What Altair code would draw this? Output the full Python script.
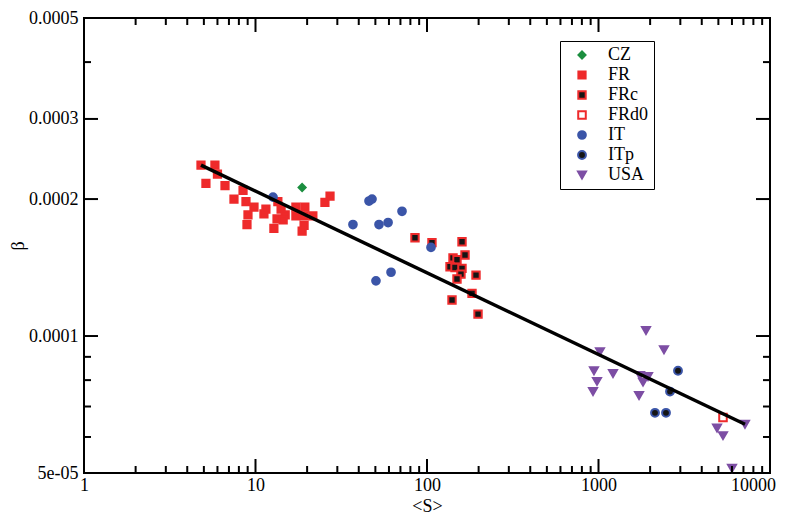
import altair as alt
import pandas as pd

# ---------------- data ----------------
series_order = ["CZ", "FR", "FRc", "FRd0", "IT", "ITp", "USA"]
series_fill = ["#1b8e3f", "#ee2a2b", "#151515", "#ffffff", "#3b55a8", "#151515", "#7d4ea4"]
series_stroke = ["#1b8e3f", "#ee2a2b", "#ee2a2b", "#ee2a2b", "#3b55a8", "#3b55a8", "#7d4ea4"]
series_shape = ["diamond", "square", "square", "square", "circle", "circle", "triangle-down"]
series_size = [50, 64, 60, 60, 64, 64, 100]

cz_s = [18.7]
cz_b = [2.12e-4]

fr_s = [4.81, 5.80, 6.0, 5.14, 6.64, 8.46, 7.49, 8.80, 9.80, 9.04, 11.2, 8.92, 13.5, 14.1,
        14.9, 13.35, 12.8, 14.5, 17.2, 19.4, 17.2, 19.2, 21.6, 19.2, 18.7, 27.2, 25.4, 11.5]
fr_b = [2.374e-4, 2.374e-4, 2.27e-4, 2.165e-4, 2.14e-4, 2.09e-4, 2.00e-4, 1.975e-4, 1.919e-4,
        1.846e-4, 1.855e-4, 1.758e-4, 1.975e-4, 1.90e-4, 1.846e-4, 1.81e-4, 1.725e-4, 1.80e-4,
        1.919e-4, 1.919e-4, 1.837e-4, 1.837e-4, 1.837e-4, 1.75e-4, 1.70e-4, 2.03e-4, 1.966e-4,
        1.90e-4]

frc_s = [85.1, 106.9, 160.0, 166.6, 141.8, 149.6, 136.2, 145.6, 160.0, 157.8, 193.1, 149.6,
         183.0, 139.9, 198.4]
frc_b = [1.644e-4, 1.604e-4, 1.612e-4, 1.507e-4, 1.485e-4, 1.471e-4, 1.42e-4, 1.415e-4,
         1.408e-4, 1.368e-4, 1.361e-4, 1.335e-4, 1.241e-4, 1.20e-4, 1.117e-4]

frd0_s = [5320]
frd0_b = [6.62e-5]

it_s = [12.65, 45.9, 47.8, 71.5, 37.0, 52.5, 59.3, 105.5, 61.7, 50.4]
it_b = [2.02e-4, 1.98e-4, 2.00e-4, 1.88e-4, 1.758e-4, 1.758e-4, 1.776e-4, 1.566e-4,
        1.381e-4, 1.322e-4]

itp_s = [2135, 2475, 2612, 2908]
itp_b = [6.78e-5, 6.78e-5, 7.55e-5, 8.39e-5]

usa_s = [1892, 1020, 2409, 941, 1215, 980, 929, 1746, 1944, 1818, 1723, 4910, 5320, 7147, 6003]
usa_b = [1.028e-4, 9.24e-5, 9.33e-5, 8.39e-5, 8.27e-5, 7.95e-5, 7.55e-5, 8.19e-5, 8.15e-5,
         7.92e-5, 7.40e-5, 6.28e-5, 6.04e-5, 6.40e-5, 5.12e-5]

fit_s = [4.81, 7150]
fit_b = [2.374e-4, 6.40e-5]

x_tick_values = [1, 10, 100, 1000, 10000]
x_tick_labels = ["1", "10", "100", "1000", "10000"]
x_minor_ticks = [m * d for d in [1, 10, 100, 1000] for m in range(2, 10)]
y_tick_values = [5e-05, 0.0001, 0.0002, 0.0003, 0.0005]
y_tick_labels = ["5e-05", "0.0001", "0.0002", "0.0003", "0.0005"]
y_major_inner = [0.0001, 0.0002, 0.0003]
y_minor_ticks = [6e-05, 7e-05, 8e-05, 9e-05, 0.0004]

# ---------------- build tables ----------------
rows = []
for name, xs, ys in [("CZ", cz_s, cz_b), ("FR", fr_s, fr_b), ("FRc", frc_s, frc_b),
                     ("FRd0", frd0_s, frd0_b), ("IT", it_s, it_b), ("ITp", itp_s, itp_b),
                     ("USA", usa_s, usa_b)]:
    for a, b in zip(xs, ys):
        rows.append({"S": a, "beta": b, "series": name})
pts = pd.DataFrame(rows)
fit = pd.DataFrame({"S": fit_s, "beta": fit_b})

W, H = 686, 455
FONT = "Liberation Serif"
MAJ, MIN = 14, 7

xscale = alt.Scale(type="log", domain=[1, 10000], nice=False)
yscale = alt.Scale(type="log", domain=[5e-05, 0.0005], nice=False)


def label_expr(values, labels, tol):
    expr = "''"
    for v, l in reversed(list(zip(values, labels))):
        expr = f"abs(datum.value - {v!r}) < {tol} ? '{l}' : ({expr})"
    return expr


x_axis = alt.Axis(values=x_tick_values, labelExpr=label_expr(x_tick_values, x_tick_labels, 1e-6),
                  title="<S>", ticks=False, tickSize=0, domain=False, grid=False,
                  labelFlush=False, labelOverlap=False, labelPadding=3,
                  labelOffset={"condition": {"test": "datum.value > 5000", "value": -17}, "value": 0},
                  titleY=33, titleBaseline="middle")
y_axis = alt.Axis(values=y_tick_values, labelExpr=label_expr(y_tick_values, y_tick_labels, 1e-12),
                  title="β", ticks=False, tickSize=0, domain=False, grid=False,
                  labelFlush=False, labelOverlap=False, labelPadding=6,
                  titleX=-66, titleY=H / 2, titleBaseline="middle", titleAnchor="middle")

leg = alt.Legend(title=None, orient="none", legendX=476, legendY=23, strokeColor="black",
                 padding=5, symbolOffset=8, labelFont=FONT, labelFontSize=18, labelColor="black",
                 symbolStrokeWidth=2, rowPadding=2, labelOffset=17)

points = alt.Chart(pts).mark_point(filled=True, strokeWidth=2, opacity=1).encode(
    x=alt.X("S:Q", scale=xscale, axis=x_axis),
    y=alt.Y("beta:Q", scale=yscale, axis=y_axis),
    shape=alt.Shape("series:N", scale=alt.Scale(domain=series_order, range=series_shape), legend=leg),
    fill=alt.Fill("series:N", scale=alt.Scale(domain=series_order, range=series_fill), legend=leg),
    stroke=alt.Stroke("series:N", scale=alt.Scale(domain=series_order, range=series_stroke), legend=leg),
    size=alt.Size("series:N", scale=alt.Scale(domain=series_order, range=series_size), legend=leg),
)

line = alt.Chart(fit).mark_line(color="black", strokeWidth=3.5).encode(
    x=alt.X("S:Q", scale=xscale),
    y=alt.Y("beta:Q", scale=yscale),
)

xmaj = pd.DataFrame({"v": x_tick_values})
xmin = pd.DataFrame({"v": x_minor_ticks})
ymaj = pd.DataFrame({"v": y_major_inner})
ymin = pd.DataFrame({"v": y_minor_ticks})


def xticks(df, length):
    bottom = alt.Chart(df).mark_rule(color="black", strokeWidth=2).encode(
        x=alt.X("v:Q", scale=xscale), y=alt.value(H), y2=alt.value(H - length))
    top = alt.Chart(df).mark_rule(color="black", strokeWidth=2).encode(
        x=alt.X("v:Q", scale=xscale), y=alt.value(0), y2=alt.value(length))
    return [bottom, top]


def yticks(df, length):
    left = alt.Chart(df).mark_rule(color="black", strokeWidth=2).encode(
        y=alt.Y("v:Q", scale=yscale), x=alt.value(0), x2=alt.value(length))
    right = alt.Chart(df).mark_rule(color="black", strokeWidth=2).encode(
        y=alt.Y("v:Q", scale=yscale), x=alt.value(W), x2=alt.value(W - length))
    return [left, right]


layers = [points, line] + xticks(xmaj, MAJ) + xticks(xmin, MIN) + yticks(ymaj, MAJ) + yticks(ymin, MIN)

chart = alt.layer(*layers).properties(
    width=W, height=H,
    padding={"left": 76, "top": 10, "right": 8, "bottom": 42},
    autosize=alt.AutoSizeParams(type="none"),
    background="white",
).configure_view(
    stroke="black", strokeWidth=2
).configure_axis(
    labelFont=FONT, labelFontSize=18, labelColor="black",
    titleFont=FONT, titleFontSize=18, titleColor="black", titleFontWeight="normal",
)

chart.save("out.html", embed_options={"renderer": "svg", "actions": False})
